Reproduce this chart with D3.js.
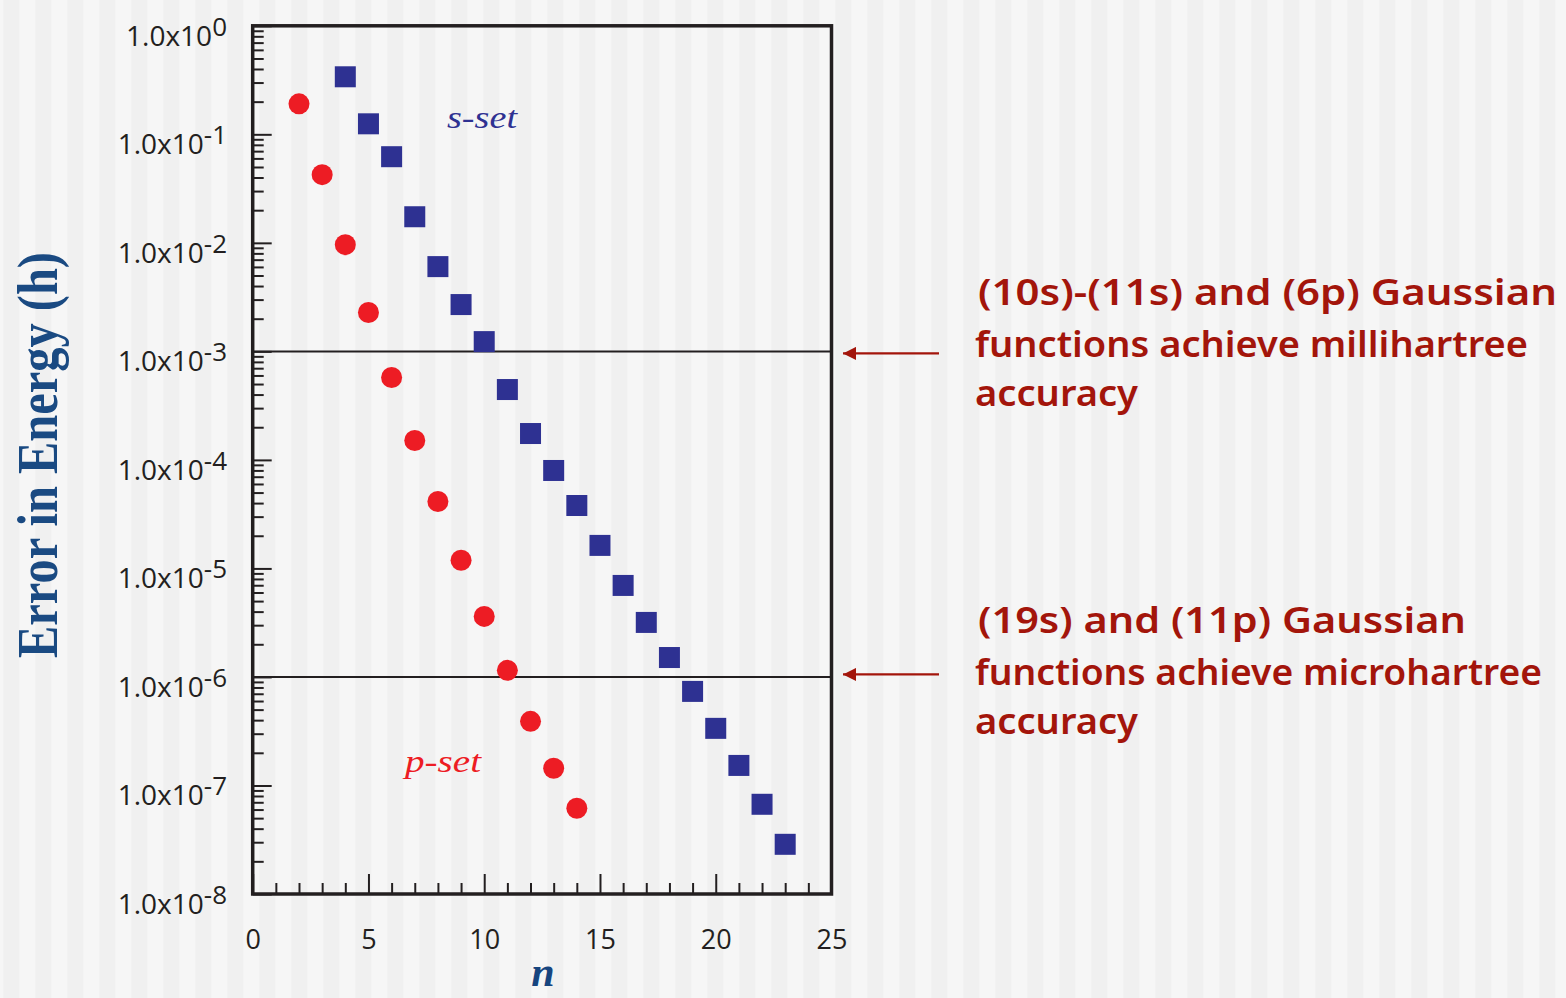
<!DOCTYPE html>
<html><head><meta charset="utf-8">
<script src="https://cdn.jsdelivr.net/npm/d3@7/dist/d3.min.js"></script>
<style>body{margin:0;background:#f3f3f3;overflow:hidden} svg{display:block}</style>
</head><body><svg id="c" width="1566" height="998"></svg>
<script>
// ---- data ----
const sN   = [4,5,6,7,8,9,10,11,12,13,14,15,16,17,18,19,20,21,22,23];
const sErr = [0.339,0.125,0.0622,0.0174,0.00604,0.00270,0.00123,4.45e-4,1.75e-4,7.99e-5,3.80e-5,1.63e-5,6.97e-6,3.18e-6,1.51e-6,7.36e-7,3.36e-7,1.53e-7,6.71e-8,2.87e-8];
const pN   = [2,3,4,5,6,7,8,9,10,11,12,13,14];
const pErr = [0.191,0.0425,0.00962,0.00228,5.74e-4,1.51e-4,4.14e-5,1.19e-5,3.61e-6,1.15e-6,3.90e-7,1.44e-7,6.17e-8];
const xTicks = [0,5,10,15,20,25];
const yExponents = [0,-1,-2,-3,-4,-5,-6,-7,-8];
const refLevels = [1e-3,1e-6];
const note1 = ["(10s)-(11s) and (6p) Gaussian","functions achieve millihartree","accuracy"];
const note2 = ["(19s) and (11p) Gaussian","functions achieve microhartree","accuracy"];
const seriesLabels = ["s-set","p-set"];

// ---- setup ----
const svg = d3.select("#c");
const defs = svg.append("defs");
const pat = defs.append("pattern").attr("id","stripes").attr("patternUnits","userSpaceOnUse")
  .attr("width",32).attr("height",998).attr("x",3.3);
pat.append("rect").attr("width",32).attr("height",998).attr("fill","#f6f6f6");
pat.append("rect").attr("width",16).attr("height",998).attr("fill","#f0f0f0");
svg.append("rect").attr("width",1566).attr("height",998).attr("fill","url(#stripes)");

const ink = "#231f20";
const x = d3.scaleLinear().domain([0,25]).range([252.7,831.5]);
const y = d3.scaleLog().domain([1e-8,1]).range([894,25.8]);

// x axis ticks (major + minor), pointing inward
const xMinor = d3.range(1,25).filter(v => v % 5 !== 0);
const gxm = svg.append("g").attr("transform",`translate(0,${y(1e-8)})`)
  .call(d3.axisBottom(x).tickValues(xMinor).tickSize(-11).tickFormat(""));
const gx = svg.append("g").attr("transform",`translate(0,${y(1e-8)})`)
  .call(d3.axisBottom(x).tickValues(xTicks).tickSize(-20).tickPadding(36).tickFormat(d3.format("d")));
[gx,gxm].forEach(g=>{
  g.select(".domain").remove();
  g.selectAll(".tick line").attr("stroke",ink).attr("stroke-width",2);
});
gx.selectAll(".tick text").attr("fill",ink).attr("font-family","'Open Sans', sans-serif")
  .attr("font-size",27);

// y axis ticks
const yMinor = [];
yExponents.slice(0,-1).forEach(e => { for (let k=2;k<=9;k++) yMinor.push(k*Math.pow(10,e-1)); });
const gym = svg.append("g").attr("transform",`translate(${x(0)},0)`)
  .call(d3.axisLeft(y).tickValues(yMinor).tickSize(-11).tickFormat(""));
const gy = svg.append("g").attr("transform",`translate(${x(0)},0)`)
  .call(d3.axisLeft(y).tickValues(yExponents.map(e=>Math.pow(10,e))).tickSize(-19).tickFormat(""));
[gy,gym].forEach(g=>{
  g.select(".domain").remove();
  g.selectAll(".tick line").attr("stroke",ink).attr("stroke-width",2);
});

// y tick labels 1.0x10^e
const yl = svg.append("g").selectAll("text").data(yExponents).join("text")
  .attr("x",227).attr("y",e=>y(Math.pow(10,e))+20)
  .attr("text-anchor","end").attr("fill",ink)
  .attr("font-family","'Open Sans', sans-serif").attr("font-size",28);
yl.append("tspan").text("1.0x10");
yl.append("tspan").attr("dy",-10).attr("font-size",26).text(e=>String(e));

// reference lines
svg.append("g").selectAll("line").data(refLevels).join("line")
  .attr("x1",x(0)).attr("x2",x(25)).attr("y1",d=>y(d)).attr("y2",d=>y(d))
  .attr("stroke",ink).attr("stroke-width",2);

// frame
svg.append("rect").attr("x",x(0)).attr("y",y(1)).attr("width",x(25)-x(0)).attr("height",y(1e-8)-y(1))
  .attr("fill","none").attr("stroke",ink).attr("stroke-width",3.5);

// series
svg.append("g").selectAll("rect").data(sN.map((n,i)=>({n,v:sErr[i]}))).join("rect")
  .attr("x",d=>x(d.n)-10.5).attr("y",d=>y(d.v)-10.5).attr("width",21).attr("height",21)
  .attr("fill","#2e3192");
svg.append("g").selectAll("circle").data(pN.map((n,i)=>({n,v:pErr[i]}))).join("circle")
  .attr("cx",d=>x(d.n)).attr("cy",d=>y(d.v)).attr("r",10.5).attr("fill","#ed1c24");

// series labels
svg.append("text").attr("x",447).attr("y",128).attr("font-family","'Liberation Serif', serif")
  .attr("font-style","italic").attr("font-size",32).attr("fill","#2e3192")
  .attr("textLength",70).attr("lengthAdjust","spacingAndGlyphs").text(seriesLabels[0]);
svg.append("text").attr("x",405).attr("y",772).attr("font-family","'Liberation Serif', serif")
  .attr("font-style","italic").attr("font-size",32).attr("fill","#ed1c24")
  .attr("textLength",76).attr("lengthAdjust","spacingAndGlyphs").text(seriesLabels[1]);

// axis titles
svg.append("text").attr("x",543).attr("y",986).attr("text-anchor","middle")
  .attr("font-family","'Liberation Serif', serif").attr("font-weight","bold").attr("font-style","italic")
  .attr("font-size",42).attr("fill","#17457f").text("n");
svg.append("text").attr("transform","translate(57,455) rotate(-90)").attr("text-anchor","middle")
  .attr("font-family","'Liberation Serif', serif").attr("font-weight","bold")
  .attr("font-size",58).attr("fill","#1a4a82")
  .attr("textLength",406).attr("lengthAdjust","spacingAndGlyphs").text("Error in Energy (h)");

// annotations
const red = "#a3150b";
const widths1 = [579,553,163], widths2 = [488,567,163];
const base1 = [305,357,406];
function note(lines, widths, dyShift){
  svg.append("g").selectAll("text").data(lines).join("text")
    .attr("x",(d,i)=> i===0 ? 978 : 975).attr("y",(d,i)=>base1[i]+dyShift)
    .attr("font-family","'Noto Sans', sans-serif").attr("font-weight",600).attr("font-size",36).attr("fill",red)
    .attr("textLength",(d,i)=>widths[i]).attr("lengthAdjust","spacingAndGlyphs").text(d=>d);
}
note(note1, widths1, 0);
note(note2, widths2, 328);

// arrows
defs.append("marker").attr("id","ah").attr("viewBox","0 0 10 10").attr("refX",10).attr("refY",5)
  .attr("markerWidth",15).attr("markerHeight",13).attr("markerUnits","userSpaceOnUse").attr("orient","auto")
  .append("path").attr("d","M0,0 L10,5 L0,10 Z").attr("fill",red);
[[refLevels[0],2],[refLevels[1],-2.5]].forEach(([lv,off])=>{
  svg.append("line").attr("x1",939).attr("x2",843).attr("y1",y(lv)+off).attr("y2",y(lv)+off)
    .attr("stroke",red).attr("stroke-width",2.2).attr("marker-end","url(#ah)");
});
</script></body></html>
